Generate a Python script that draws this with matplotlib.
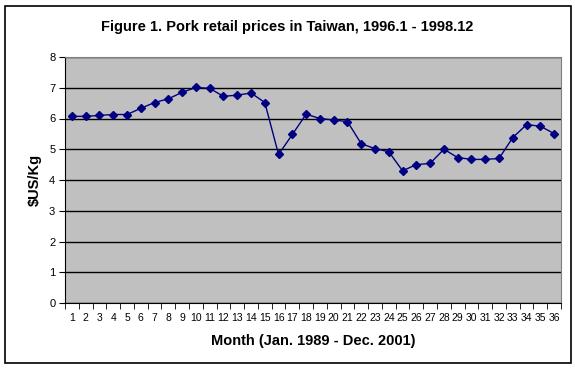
import numpy as np
import matplotlib.pyplot as plt
from matplotlib.patches import Rectangle

months = list(range(1, 37))
prices = [6.07, 6.07, 6.10, 6.13, 6.13, 6.33, 6.52, 6.64, 6.85, 7.01,
          6.98, 6.72, 6.76, 6.83, 6.52, 4.83, 5.48, 6.14, 6.00, 5.95,
          5.90, 5.18, 5.02, 4.92, 4.30, 4.50, 4.54, 5.00, 4.73, 4.67,
          4.67, 4.70, 5.38, 5.80, 5.75, 5.51]
yticks = list(range(0, 9))

def makePlot(outputFilename='out.png'):
    plt.rc('font', family=['Liberation Sans', 'DejaVu Sans'])

    fig = plt.figure(figsize=(5.75, 3.68), dpi=100)
    fig.patch.set_facecolor('white')
    fig.patches.append(Rectangle((5 / 575, 5 / 368), 566 / 575, 357 / 368,
                                 transform=fig.transFigure, fill=False,
                                 edgecolor='black', lw=1.2))

    ax = fig.add_axes([65 / 575, (368 - 303) / 368, 496 / 575, 246 / 368])
    ax.set_facecolor('#c0c0c0')
    ax.plot(months, prices, color='#000080', lw=1, marker='D', ms=4.5,
            mec='#000080', mfc='#000080')

    ax.set_xlim(0.5, 36.5)
    ax.set_ylim(0, 8)
    ax.set_xticks(months)
    ax.set_xticklabels([str(m) for m in months], fontsize=7.5)
    ax.set_xticks(np.arange(0.5, 37, 1), minor=True)
    ax.tick_params(axis='x', which='major', length=0, pad=7)
    ax.tick_params(axis='x', which='minor', length=4, direction='out')
    ax.set_yticks(yticks)
    ax.set_yticklabels([str(v) for v in yticks], fontsize=8)
    ax.tick_params(axis='y', length=4, direction='out', pad=3)
    ax.yaxis.grid(True, color='black', lw=1)
    ax.set_axisbelow(True)

    for side in ['top', 'right']:
        ax.spines[side].set_color('#808080')
    for side in ['left', 'bottom']:
        ax.spines[side].set_color('black')

    fig.text(0.5, 1 - 27 / 368, 'Figure 1. Pork retail prices in Taiwan, 1996.1 - 1998.12',
             ha='center', va='center', fontsize=10.5, fontweight='bold')
    ax.set_xlabel('Month (Jan. 1989 - Dec. 2001)', fontsize=10.5, fontweight='bold',
                  labelpad=8)
    ax.set_ylabel(r'\$US/Kg', fontsize=10.5, fontweight='bold', labelpad=5)

    fig.savefig(outputFilename, dpi=100)

makePlot()
